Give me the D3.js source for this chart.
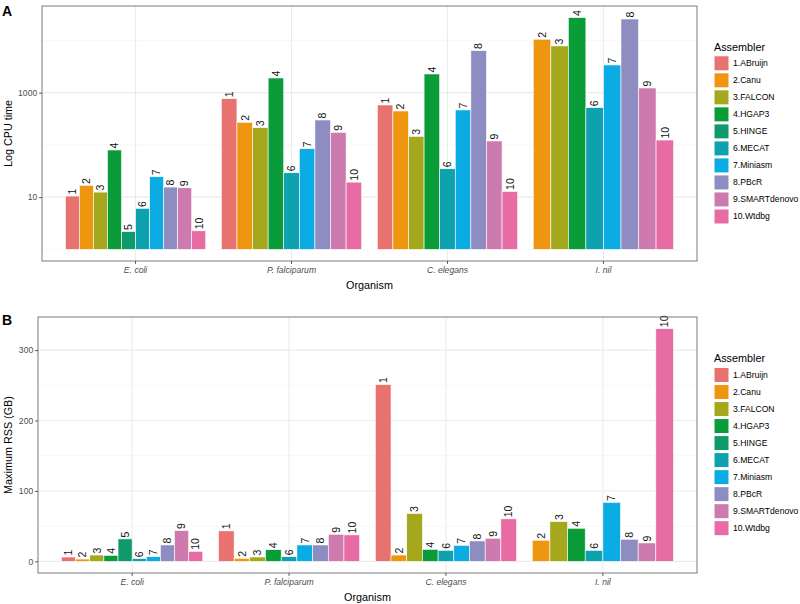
<!DOCTYPE html>
<html><head><meta charset="utf-8">
<script src="https://cdn.jsdelivr.net/npm/d3@7"></script>
<style>body{margin:0;background:#fff}svg{display:block;font-family:"Liberation Sans",Arial,sans-serif}</style>
</head><body><svg id="c" width="800" height="604"></svg>
<script>
const organisms = ["E. coli","P. falciparum","C. elegans","I. nil"];
const assemblers = ["1.ABruijn","2.Canu","3.FALCON","4.HGAP3","5.HINGE","6.MECAT","7.Miniasm","8.PBcR","9.SMARTdenovo","10.Wtdbg"];
const colors = ["#E8726F","#EE960F","#A5A81C","#0B9C3A","#0E9A6C","#0EA1AE","#0BABE3","#8E8DC2","#CD7BAE","#E86CA4"];
// CPU time (log scale), null = missing
const cpuEcoli = [10.5,16.8,12.5,80,2.2,6.1,24.6,15.6,15.1,2.27];
const cpuPfal  = [767,271,214,1910,null,29.3,84.6,300,174,19.4];
const cpuCele  = [581,446,146,2280,null,35,467,6380,119,12.9];
const cpuInil  = [null,10540,7850,27350,null,516,3390,25700,1230,124];
// Maximum RSS (GB)
const rssEcoli = [6.2,3.3,9,8.6,31.9,3.8,6.6,23.3,43.7,14.3];
const rssPfal  = [43.3,4.3,6.2,16.6,null,6.6,23.3,23.3,38.5,37.6];
const rssCele  = [251,9,68,17.1,null,15.7,22.8,29,32.8,60.4];
const rssInil  = [null,30,56.6,47,null,15.7,83.7,31.4,26.2,330.5];
const cpuTicks = [10,1000];
const cpuMinor = [1,100,10000];
const rssTicks = [0,100,200,300];
const rssMinor = [50,150,250];

const svg = d3.select("#c");

function panel(cfg){
  const {x0,x1,y0,y1,series,yScale,ticks,minor,yTitle,tag,tagY,legY,tickFmt,base} = cfg;
  const g = svg.append("g");
  const x = d3.scaleBand().domain(organisms).range([x0,x1]).paddingInner(0.1).paddingOuter(0.15);
  // grid
  g.selectAll(".mn").data(minor).join("line").attr("x1",x0).attr("x2",x1)
    .attr("y1",d=>yScale(d)).attr("y2",d=>yScale(d)).attr("stroke","#F2F2F2").attr("stroke-width",0.6);
  g.selectAll(".mj").data(ticks).join("line").attr("x1",x0).attr("x2",x1)
    .attr("y1",d=>yScale(d)).attr("y2",d=>yScale(d)).attr("stroke","#EBEBEB").attr("stroke-width",1.1);
  g.selectAll(".vx").data(organisms).join("line").attr("y1",y0).attr("y2",y1)
    .attr("x1",d=>x(d)+x.bandwidth()/2).attr("x2",d=>x(d)+x.bandwidth()/2).attr("stroke","#EBEBEB").attr("stroke-width",1.1);
  // bars
  organisms.forEach((org,oi)=>{
    const vals = series[oi];
    const present = assemblers.map((a,i)=>({a,i,v:vals[i]})).filter(d=>d.v!=null);
    const inner = d3.scaleBand().domain(present.map(d=>d.a)).range([x(org),x(org)+x.bandwidth()]);
    const bg = g.append("g");
    bg.selectAll("rect").data(present).join("rect")
      .attr("x",d=>inner(d.a)).attr("width",inner.bandwidth())
      .attr("y",d=>yScale(d.v)).attr("height",d=>yScale(base)-yScale(d.v))
      .attr("fill",d=>colors[d.i]).attr("stroke","#fff").attr("stroke-width",0.6);
    bg.selectAll("text").data(present).join("text")
      .attr("transform",d=>`translate(${inner(d.a)+inner.bandwidth()/2},${yScale(d.v)-1.5}) rotate(-90)`)
      .attr("dy","0.36em").attr("text-anchor","start").attr("font-size",10.5).attr("fill","#111")
      .text(d=>String(d.i+1));
  });
  // border
  g.append("rect").attr("x",x0).attr("y",y0).attr("width",x1-x0).attr("height",y1-y0)
    .attr("fill","none").attr("stroke","#7A7A7A").attr("stroke-width",1);
  // axes
  const ya = g.append("g").attr("transform",`translate(${x0},0)`)
    .call(d3.axisLeft(yScale).tickValues(ticks).tickFormat(tickFmt).tickSize(2.8).tickPadding(2));
  ya.select(".domain").remove();
  ya.selectAll("line").attr("stroke","#4D4D4D");
  ya.selectAll("text").attr("font-size",8.6).attr("fill","#4D4D4D").attr("font-family","Liberation Sans, Arial, sans-serif");
  const xa = g.append("g").attr("transform",`translate(0,${y1})`)
    .call(d3.axisBottom(x).tickSize(2.8).tickPadding(3));
  xa.select(".domain").remove();
  xa.selectAll("line").attr("stroke","#4D4D4D");
  xa.selectAll("text").attr("font-size",8.6).attr("fill","#4D4D4D").attr("font-style","italic").attr("font-family","Liberation Sans, Arial, sans-serif");
  // titles
  g.append("text").attr("x",(x0+x1)/2).attr("y",y1+28).attr("text-anchor","middle").attr("font-size",10.8).attr("fill","#000").text("Organism");
  g.append("text").attr("transform",`translate(12,${(y0+y1)/2}) rotate(-90)`).attr("text-anchor","middle").attr("font-size",10.8).attr("fill","#000").text(yTitle);
  g.append("text").attr("x",2).attr("y",tagY).attr("font-size",14).attr("font-weight","bold").text(tag);
  // legend
  const lg = g.append("g");
  lg.append("text").attr("x",714).attr("y",legY-12).attr("dy","0.35em").attr("font-size",10.8).text("Assembler");
  const ly = i => legY + 4.3 + i*17.02;
  lg.selectAll("rect").data(assemblers).join("rect")
    .attr("x",714.5).attr("y",(d,i)=>ly(i)-7).attr("width",14).attr("height",14).attr("fill",(d,i)=>colors[i]);
  lg.selectAll(".lt").data(assemblers).join("text").attr("x",733).attr("y",(d,i)=>ly(i)).attr("dy","0.35em")
    .attr("font-size",8.6).attr("fill","#000").text(d=>d);
}

// Panel A
const ayMin = Math.pow(10,-0.05*Math.log10(27350)), ayMax = Math.pow(10,1.05*Math.log10(27350));
const yA = d3.scaleLog().domain([ayMin,ayMax]).range([261,6]);
panel({x0:42,x1:697,y0:6,y1:261,series:[cpuEcoli,cpuPfal,cpuCele,cpuInil],yScale:yA,
  ticks:cpuTicks,minor:cpuMinor,yTitle:"Log CPU time",tag:"A",tagY:16,legY:59,tickFmt:d3.format("d"),base:1});
// Panel B
const rMax = d3.max([...rssEcoli,...rssPfal,...rssCele,...rssInil]);
const yB = d3.scaleLinear().domain([-0.05*rMax,1.05*rMax]).range([573,317]);
panel({x0:38,x1:697,y0:317,y1:573,series:[rssEcoli,rssPfal,rssCele,rssInil],yScale:yB,
  ticks:rssTicks,minor:rssMinor,yTitle:"Maximum RSS (GB)",tag:"B",tagY:325,legY:370.7,tickFmt:d3.format("d"),base:0});
</script></body></html>
